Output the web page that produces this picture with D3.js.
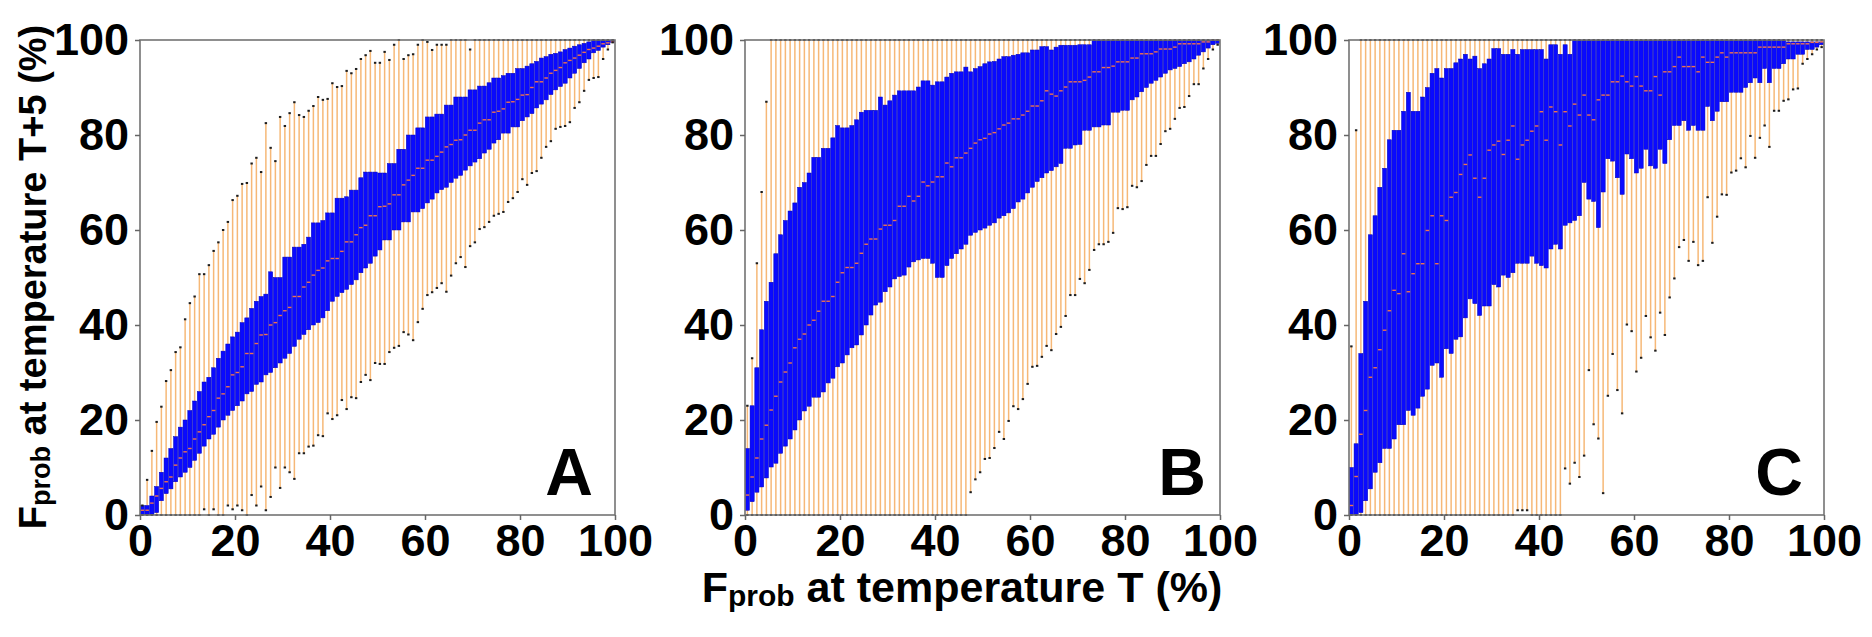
<!DOCTYPE html>
<html><head><meta charset="utf-8">
<script src="https://cdn.jsdelivr.net/npm/d3@7"></script>
<style>body{margin:0;background:#fff}svg{display:block}</style>
</head><body>
<svg id="chart" width="1872" height="637"></svg>
<script>
// ---------- data ----------
const xTickValues = [0, 20, 40, 60, 80, 100];
const yTickValues = [0, 20, 40, 60, 80, 100];
const panelLabels = ["A", "B", "C"];
// bin i covers Fprob at T from i% to (i+1)%
const bins = [0,1,2,3,4,5,6,7,8,9,10,11,12,13,14,15,16,17,18,19,20,21,22,23,24,25,26,27,28,29,30,31,32,33,34,35,36,37,38,39,40,41,42,43,44,45,46,47,48,49,50,51,52,53,54,55,56,57,58,59,60,61,62,63,64,65,66,67,68,69,70,71,72,73,74,75,76,77,78,79,80,81,82,83,84,85,86,87,88,89,90,91,92,93,94,95,96,97,98,99];

// Panel A
const A_lo = [0,0,0,0,0,0,0,0,0,0,
 0,0,0,1.2,0,1.2,0,0,2,1.2,
 2,1,0,4.2,2,6,1,3.8,10,5.7,
 10,9,7.6,13,13,14.4,14.6,16.8,16.6,21.4,
 20.2,21,24.2,22.3,24.8,24.6,28,29.5,28.4,32,
 31.8,31.8,34.3,35.2,35.6,38.5,38,36.8,40.6,43.4,
 46.3,46.9,47.8,48.8,47,50.4,53,54.3,52.2,56.6,
 57.4,60.2,60.6,61.7,63,63.4,63.8,65.9,66.7,68,
 70.7,69.5,72,72.4,75.2,77.5,78.7,81.3,81.7,81.9,
 82.7,85.7,86.9,89.3,91.6,92,92.2,96,98,99.5];
const A_q1 = [0,0,0,0.5,3,4.5,5.5,7,8,9,
 10,11.5,13,14.5,16,17,18.5,20,21,22,
 23,24,25.5,26,27.5,28,29.5,30,31,32,
 33,34,35.5,37,38,39,40,40.5,41.5,43,
 45,46,46.8,47.5,48.5,49.5,51,52,53,54.5,
 55.8,57.9,57.9,60,60,61.7,61.7,63.8,63.8,64.5,
 65.7,66.5,67.8,68.5,69,70,70.9,71.5,72.6,73.5,
 74.3,75,76.2,77,78.3,79,80.4,80.4,81.7,81.7,
 83,83.8,84.5,85.7,86.5,87.4,88.5,89.5,90.2,90.9,
 92,93,94,95.2,96,97.3,97.8,98.5,99,99.5];
const A_med = [1,1,2.5,4,5.6,7,8,10.5,12,13.3,
 14,16,17.5,19,20.7,22,24.6,25.5,27,29.5,
 30,31.2,34,34,36.1,37.9,38,40,40.5,42,
 43,43.7,46,46,48,49,50.5,51.5,52,53.5,
 54,54,55.5,57.5,57.5,59,60.5,61,63,63,
 64.9,65,65.5,67.4,67.4,69.5,70.5,71.5,73,73,
 74.7,74.7,75.5,76.4,77.5,78,78.9,79,80,81,
 81,82.5,83.2,83.2,84.8,85,85.5,86.9,87,87.5,
 88.4,88.5,90,91.2,91.2,92,93,93.6,94.2,95.2,
 95.7,96.2,96.8,97.4,98,98.3,98.7,99.2,99.4,99.6];
const A_q3 = [2,2,4,6,9,12,14,16.5,18.5,20,
 22,24,26,28,29,31,33,34.5,36,37.5,
 38.5,40.5,41.5,43.5,45,46,46.5,51.2,50,50,
 54.3,54.3,56.4,56.4,57,58.5,61.5,61.5,62,63.6,
 63.6,66.7,66.7,67,68.4,68.4,71,72.2,72.2,72.2,
 72,72,74,74,77,77,80,80,81.5,81.5,
 83.8,83.8,84.4,84.4,86.3,86.3,88,88,88,89.5,
 89.5,90.3,90.3,91,92,92,92.5,93,93,94,
 94,94.5,95,95.5,96.2,96.5,97,97.2,97.5,98,
 98.3,98.7,99,99.3,99.6,100,100,100,100,100];
const A_hi = [2,7.4,13.5,19.6,22.8,28.2,30.5,34.3,35.3,41.2,
 44.6,46,50.7,50.7,52.6,55.6,57.4,60,61.7,66.3,
 67.2,69.7,69.9,74,75.2,72.2,82.5,77.3,74.5,83.8,
 81.9,84.6,86.9,84.2,83.8,85.1,86.1,88,87.4,87.6,
 90.9,90.1,90.3,93.5,93,93.9,96,96.8,97.7,95.2,
 95.2,97.5,95.8,99,100,96,96.8,97,99,100,
 99.6,97.9,99,99,99,100,100,100,100,98,
 100,100,100,100,100,100,100,100,100,100,
 100,100,100,100,100,100,100,100,100,100,
 100,100,100,100,100,100,100,100,100,100];

// Panel B
const B_lo = [0,0,0,0,0,0,0,0,0,0,
 0,0,0,0,0,0,0,0,0,0,
 0,0,0,0,0,0,0,0,0,0,
 0,0,0,0,0,0,0,0,0,0,
 0,0,0,0,0,0,0,4.8,7.5,9,
 11.8,12,14.1,17.5,16,19.8,22.9,22.3,24.4,27.6,
 31.2,31.4,33.3,35.6,34.7,38.1,39.6,41.9,46.3,46.3,
 49.7,48.8,51.6,55.8,57,57,57.5,59.4,64.6,64.4,
 64.8,69.3,69,70.3,73.7,75.6,75.6,78.1,80.8,81.3,
 83.4,85.7,85.9,88.2,90.7,90.7,94,96,98,99];
const B_q1 = [1,2.8,4.8,5.9,7.8,10.1,10.9,13,14.5,16,
 17.9,20,21.9,22.9,24.8,24.8,25.9,27.8,28.8,31.2,
 32,33.7,35.2,35.8,37.9,40,42.1,44.2,44.8,47,
 48,49.7,50.2,50.5,52.2,53.3,53.7,54,54,53,
 50,50,52.5,54,55,56,57,58.9,59.5,60,
 60.4,61,61.5,62.5,63,63.6,64.5,65.9,66.5,67.8,
 69,70.2,71,72,72.5,73.3,74,77.2,77.2,77.9,
 78,81,81,81.7,81.7,82.1,82.1,84.8,84.8,85.2,
 85.2,87.4,88,89.1,90,90.9,91.5,92.2,93,93.7,
 94,94.4,95,95.4,96,96.8,97.5,98.3,99,99.3];
const B_med = [4.2,8,12,16,18.9,22.1,25,28,30.1,32,
 35.2,37,38.1,40,41,42.9,45,45,46,49,
 51,52.1,52.1,53,55.1,57,58.1,58.1,60.2,61,
 61,62,65,65,67.1,66.1,67.1,70.1,69.3,70.1,
 71.2,71.2,74.1,73.3,75.2,75.2,76.2,77.2,78.3,79,
 79.3,80.2,80.5,81.3,82.1,82.5,83.4,83.4,84.2,85,
 86.1,86.1,87.2,89.3,88.6,88.2,89.3,90.1,91.2,91.2,
 91.2,91.5,92.2,93.3,93.3,94.2,94.2,94.5,95.4,95.4,
 95.4,96.2,96.2,97.1,97.1,97.1,97.5,98.1,98.1,98.1,
 98.5,99.2,99.2,99.2,99.2,99.2,99.6,99.6,100,100];
const B_q3 = [14,23,31,39,45,49,55,59,62,64,
 65.7,69,70,72,75.3,75.3,77.2,77.2,79.4,82,
 81.5,81.5,82,83.2,84.8,85.2,85.2,85.2,88,86.3,
 87.2,88.4,89.3,89.3,89.3,89.3,90.1,91.4,91.4,90.5,
 91.2,91.2,92.2,93,93.3,93.3,94.3,93.3,94,94.4,
 95,95.4,95.5,96,96.5,96.5,96.8,97,97.3,97.3,
 97.9,97.9,98.6,98.6,97.9,98.5,98.9,98.9,98.9,98.9,
 99,99,99,100,100,100,100,100,100,100,
 100,100,100,100,100,100,100,100,100,100,
 100,100,100,100,100,100,100,100,100,100];
const B_hi = [23,33,53,68,87,100,100,100,100,100,
 100,100,100,100,100,100,100,100,100,100,
 100,100,100,100,100,100,100,100,100,100,
 100,100,100,100,100,100,100,100,100,100,
 100,100,100,100,100,100,100,100,100,100,
 100,100,100,100,100,100,100,100,100,100,
 100,100,100,100,100,100,100,100,100,100,
 100,100,100,100,100,100,100,100,100,100,
 100,100,100,100,100,100,100,100,100,100,
 100,100,100,100,100,100,100,100,100,100];

// Panel C
const C_lo = [0,0,0,0,0,0,0,0,0,0,
 0,0,0,0,0,0,0,0,0,0,
 0,0,0,0,0,0,0,0,0,0,
 0,0,0,0,0,1,1,1,0,0,
 0,0,0,0,0,9.8,6.6,11,8,12.5,
 30.5,19.1,16.1,4.6,25.1,33.9,26.3,21.4,40.1,38.7,
 30.2,33.1,41.9,37.4,34.6,42.6,37.9,45.8,49.8,56.4,
 57.9,53.5,57.5,52.6,53.5,66.9,57.3,62.8,67.5,67.4,
 72.1,72.5,75.1,73.2,79.8,75.2,79.4,82,77.5,85.1,
 85.1,87.2,87.5,89.6,89.8,95,96,97,98,98.5];
const C_q1 = [0,0,0.5,3,5.5,9,11,14,14,16,
 19,19,22,21,22.5,25,26.5,31.5,32,29,
 35,34,37,37.5,41.5,45.5,44.5,42,44,44,
 48.5,48,50.5,50,51,53,53,53,54.5,53,
 52.5,52,56,57,56,61,61.5,62,63,70,
 66.5,66,60.5,68,75,74.5,71,67.5,76,75,
 72,73,77,73.5,73,77,74,79,82,82,
 83,81,82,81,81,86,83,85,87,87,
 89,89,89,90,91,92,91,94,91,94,
 94,95,96,96,97,97,98,98,98.5,99];
const C_med = [2,8.1,17,22,29,31,34.8,38.9,43,47.3,
 46.6,55,47,50.8,52.9,52.9,59.9,63,52.9,63,
 62,66.9,67.9,71.7,73.8,75.8,70.9,66.9,70.9,76.8,
 77.9,78.7,75.9,78.9,81.9,74.9,77.9,78.9,80.8,81.9,
 84.9,78.9,85.9,84.9,77.9,84.9,81.9,86.5,84.2,88.4,
 84.2,83.2,87.4,88.4,88.4,91.2,91.2,92.4,91.2,90.3,
 92.3,90.3,89.3,89.3,92.3,88.4,93.3,93.3,94.4,96.4,
 94.4,94.4,94.4,93.3,96.4,95.3,95.3,96.4,97.3,96.4,
 97.3,97.3,97.3,97.3,97.3,97.3,98.5,98.5,98.5,98.5,
 98.5,98.5,99.2,99.2,99.2,99.2,99.2,99.5,99.5,99.6];
const C_q3 = [10,15,34,45,59,63,69,73,79,81,
 81,85,89,85,85,88,90,93,94,92,
 94,94,95.2,96,97,96,96.6,94,95,96,
 98.2,98.2,97,97,98,97,98,98,98,98,
 98,96,99,99,97,99,97,100,100,100,
 100,100,100,100,100,100,100,100,100,100,
 100,100,100,100,100,100,100,100,100,100,
 100,100,100,100,100,100,100,100,100,100,
 100,100,100,100,100,100,100,100,100,100,
 100,100,99.6,99.6,99.6,99.6,99.6,99.6,99.6,99.6];
const C_hi = [35.5,81,100,100,100,100,100,100,100,100,
 100,100,100,100,100,100,100,100,100,100,
 100,100,100,100,100,100,100,100,100,100,
 100,100,100,100,100,100,100,100,100,100,
 100,100,100,100,100,100,100,100,100,100,
 100,100,100,100,100,100,100,100,100,100,
 100,100,100,100,100,100,100,100,100,100,
 100,100,100,100,100,100,100,100,100,100,
 100,100,100,100,100,100,100,100,100,100,
 100,100,100,100,100,100,100,100,100,100];

// ---------- drawing ----------
const panels = [
  {label: panelLabels[0], lo: A_lo, q1: A_q1, med: A_med, q3: A_q3, hi: A_hi, left: 140, labelInset: 22},
  {label: panelLabels[1], lo: B_lo, q1: B_q1, med: B_med, q3: B_q3, hi: B_hi, left: 745, labelInset: 14},
  {label: panelLabels[2], lo: C_lo, q1: C_q1, med: C_med, q3: C_q3, hi: C_hi, left: 1349, labelInset: 21}
];
const TOP = 40, SIZE = 475;
const FONT = "'Liberation Sans', Arial, Helvetica, sans-serif";
const svg = d3.select("#chart").style("font-family", FONT);

panels.forEach(p => {
  const x = d3.scaleLinear().domain([0, 100]).range([p.left, p.left + SIZE]);
  const y = d3.scaleLinear().domain([0, 100]).range([TOP + SIZE, TOP]);
  const g = svg.append("g");

  // whiskers
  g.selectAll("line.wh").data(bins).join("line")
    .attr("class", "wh")
    .attr("x1", i => x(i + 0.5)).attr("x2", i => x(i + 0.5))
    .attr("y1", i => y(p.lo[i])).attr("y2", i => y(p.hi[i]))
    .attr("stroke", "#f6b877").attr("stroke-width", 1.5);

  // boxes
  g.selectAll("rect.box").data(bins).join("rect")
    .attr("class", "box")
    .attr("x", i => x(i) + 0.3)
    .attr("width", i => x(i + 1) - x(i) - 0.6)
    .attr("y", i => y(p.q3[i]))
    .attr("height", i => Math.max(0.8, y(p.q1[i]) - y(p.q3[i])))
    .attr("fill", "#0a0aff").attr("stroke", "#0000b8").attr("stroke-width", 0.5);

  // medians
  g.selectAll("line.med").data(bins).join("line")
    .attr("class", "med")
    .attr("x1", i => x(i) + 0.6).attr("x2", i => x(i + 1) - 0.6)
    .attr("y1", i => y(p.med[i])).attr("y2", i => y(p.med[i]))
    .attr("stroke", "#f0724e").attr("stroke-width", 1.4);

  // whisker end markers
  const caps = [];
  bins.forEach(i => { caps.push([i, p.lo[i]]); caps.push([i, p.hi[i]]); });
  g.selectAll("rect.cap").data(caps).join("rect")
    .attr("class", "cap")
    .attr("x", d => x(d[0] + 0.5) - 1.2).attr("width", 2.4)
    .attr("y", d => y(d[1]) - 1).attr("height", 2)
    .attr("fill", "#1c1c1c");

  // frame
  g.append("rect").attr("x", p.left).attr("y", TOP).attr("width", SIZE).attr("height", SIZE)
    .attr("fill", "none").attr("stroke", "#737373").attr("stroke-width", 1.6);

  // axes
  const ax = g.append("g").attr("transform", `translate(0,${TOP + SIZE})`)
    .call(d3.axisBottom(x).tickValues(xTickValues).tickSize(5).tickPadding(4));
  const ay = g.append("g").attr("transform", `translate(${p.left},0)`)
    .call(d3.axisLeft(y).tickValues(yTickValues).tickSize(5).tickPadding(6));
  [ax, ay].forEach(a => {
    a.select(".domain").remove();
    a.selectAll(".tick line").attr("stroke", "#666").attr("stroke-width", 1.5);
    a.selectAll(".tick text").attr("fill", "#000").attr("font-size", 45)
      .attr("font-weight", "bold").attr("font-family", FONT);
  });

  // panel letter
  g.append("text").attr("x", p.left + SIZE - p.labelInset).attr("y", TOP + SIZE - 20)
    .attr("text-anchor", "end").attr("font-size", 66).attr("font-weight", "bold")
    .attr("fill", "#000").text(p.label);
});

// x-axis title
const xt = svg.append("text").attr("x", 962).attr("y", 602).attr("text-anchor", "middle")
  .attr("font-size", 43).attr("font-weight", "bold").attr("fill", "#000");
xt.append("tspan").text("F");
xt.append("tspan").attr("font-size", 30).attr("dy", 4).text("prob");
xt.append("tspan").attr("dy", -4).text(" at temperature T (%)");

// y-axis title
const yt = svg.append("text").attr("transform", "translate(46,277) rotate(-90)")
  .attr("text-anchor", "middle").attr("font-size", 38).attr("font-weight", "bold").attr("fill", "#000");
yt.append("tspan").text("F");
yt.append("tspan").attr("font-size", 27).attr("dy", 4).text("prob");
yt.append("tspan").attr("dy", -4).text(" at temperature T+5 (%)");
</script>
</body></html>
